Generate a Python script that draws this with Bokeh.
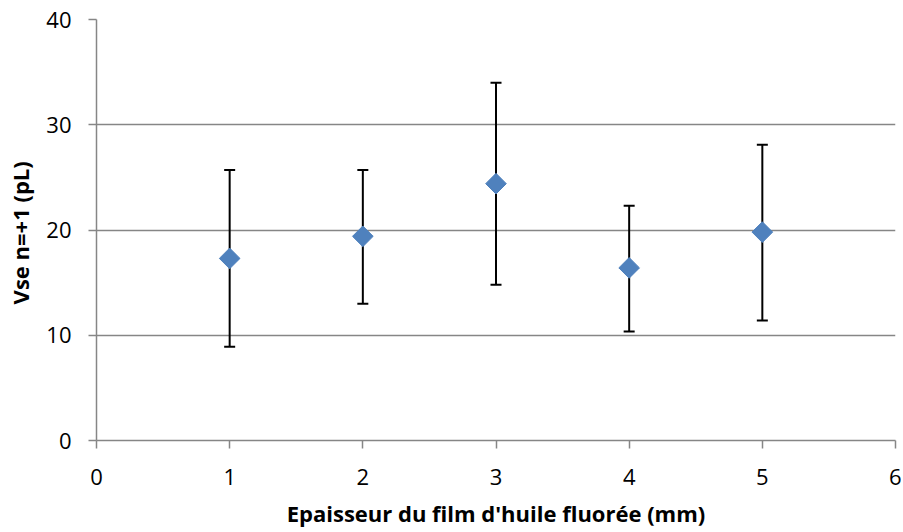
import math
from bokeh.plotting import figure
from bokeh.models import ColumnDataSource, Whisker, TeeHead, FixedTicker, Range1d
from bokeh.embed import file_html
from bokeh.resources import INLINE

# Data
thickness_mm = [1, 2, 3, 4, 5]
vse_pl = [17.3, 19.4, 24.4, 16.4, 19.8]
err_upper = [25.7, 25.7, 34.0, 22.3, 28.1]
err_lower = [8.9, 13.0, 14.8, 10.35, 11.4]

x_ticks = [0, 1, 2, 3, 4, 5, 6]
y_ticks = [0, 10, 20, 30, 40]

FONT = "Open Sans"
GRID = "#868686"

src = ColumnDataSource(dict(x=thickness_mm, y=vse_pl, upper=err_upper, lower=err_lower))

p = figure(width=901, height=530, output_backend="svg", toolbar_location=None,
           x_range=Range1d(0, 6), y_range=Range1d(0, 40),
           min_border_left=96, min_border_right=6, min_border_top=19, min_border_bottom=88)
p.outline_line_color = None
p.background_fill_color = "white"
p.border_fill_color = "white"

p.xgrid.grid_line_color = None
p.ygrid.grid_line_color = GRID
p.ygrid.grid_line_width = 1.5

for ax in (p.xaxis[0], p.yaxis[0]):
    ax.axis_line_color = GRID
    ax.axis_line_width = 1.5
    ax.major_tick_line_color = GRID
    ax.major_tick_line_width = 1.5
    ax.major_tick_out = 8
    ax.major_tick_in = 0
    ax.minor_tick_line_color = None
    ax.major_label_text_font = FONT
    ax.major_label_text_font_size = "22px"
    ax.major_label_text_color = "black"
    ax.axis_label_text_font = FONT
    ax.axis_label_text_font_size = "22px"
    ax.axis_label_text_font_style = "bold"
    ax.axis_label_text_color = "black"

p.xaxis.ticker = FixedTicker(ticks=x_ticks)
p.yaxis.ticker = FixedTicker(ticks=y_ticks)
p.xaxis.axis_label = "Epaisseur du film d'huile fluorée (mm)"
p.yaxis.axis_label = "Vse  n=+1 (pL)"
p.xaxis.major_label_standoff = 20
p.yaxis.major_label_standoff = 17
p.xaxis.axis_label_standoff = 10
p.yaxis.axis_label_standoff = 8

whisker = Whisker(source=src, base="x", upper="upper", lower="lower",
                  line_color="black", line_width=2,
                  upper_head=TeeHead(size=11, line_color="black", line_width=2),
                  lower_head=TeeHead(size=11, line_color="black", line_width=2))
p.add_layout(whisker)

p.scatter("x", "y", source=src, marker="square", size=14.6, angle=math.pi / 4,
          fill_color="#4F81BD", line_color="#4F81BD", line_width=1)

open("out.html", "w").write(file_html(p, INLINE))
